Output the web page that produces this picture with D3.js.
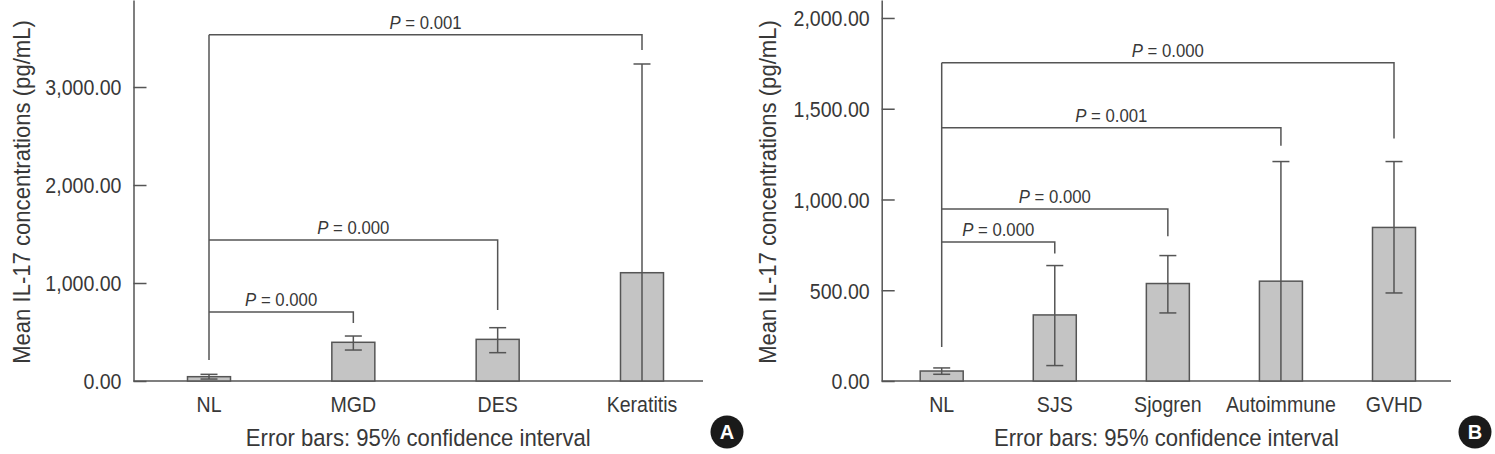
<!DOCTYPE html>
<html>
<head>
<meta charset="utf-8">
<script src="https://cdn.jsdelivr.net/npm/d3@7"></script>
<style>
  html, body { margin: 0; padding: 0; background: #fff; }
  svg { display: block; font-family: "Liberation Sans", Arial, sans-serif; }
</style>
</head>
<body>
<svg id="chart" width="1495" height="454"></svg>
<script>
// panel A
const leftCategories = ['NL', 'MGD', 'DES', 'Keratitis'];
const leftMeans = [44, 395, 425, 1105];
const leftLower = [20, 316, 289, 0];
const leftUpper = [68, 459, 544, 3235];
const leftTicks = [0, 1000, 2000, 3000];
const leftBrackets = [
  { to: 'MGD', level: 704, leg: 592, p: '0.000' },
  { to: 'DES', level: 1439, leg: 724, p: '0.000' },
  { to: 'Keratitis', level: 3534, leg: 3378, p: '0.001' }
];
const leftStemBase = 214;

// panel B
const rightCategories = ['NL', 'SJS', 'Sjogren', 'Autoimmune', 'GVHD'];
const rightMeans = [55, 364, 537, 550, 846];
const rightLower = [37, 85, 375, 0, 485];
const rightUpper = [72, 636, 691, 1209, 1209];
const rightTicks = [0, 500, 1000, 1500, 2000];
const rightBrackets = [
  { to: 'SJS', level: 766, leg: 702, p: '0.000' },
  { to: 'Sjogren', level: 948, leg: 798, p: '0.000' },
  { to: 'Autoimmune', level: 1395, leg: 1296, p: '0.001' },
  { to: 'GVHD', level: 1753, leg: 1336, p: '0.000' }
];
const rightStemBase = 187;

const yTitle = 'Mean IL-17 concentrations (pg/mL)';
const xCaption = 'Error bars: 95% confidence interval';

const ink = '#555';
const textColor = '#383838';
const svg = d3.select('#chart');

// no condensed face installed, so squeeze Liberation Sans horizontally
function squeeze(sel, s) {
  sel.each(function () {
    const t = d3.select(this);
    const x = +t.attr('x') || 0, y = +t.attr('y') || 0;
    t.attr('x', 0).attr('y', 0).attr('transform', `translate(${x},${y}) scale(${s},1)`);
  });
}

function drawPanel(opt) {
  const g = svg.append('g');
  const baseY = 381;

  const y = d3.scaleLinear().domain([0, opt.yMax]).range([baseY, 0]);
  const x = d3.scalePoint().domain(opt.categories).range([opt.firstX, opt.lastX]);
  const barW = 43, capW = 17;

  const rows = opt.categories.map((c, i) => ({
    cat: c, mean: opt.means[i], lo: opt.lower[i], hi: opt.upper[i]
  }));

  // y axis, ticks pointing inward
  const yAxis = g.append('g')
    .attr('transform', `translate(${opt.axisX},0)`)
    .call(d3.axisLeft(y).tickValues(opt.ticks).tickFormat(d3.format(',.2f'))
      .tickSizeInner(-13).tickSizeOuter(0).tickPadding(12));
  yAxis.select('.domain').attr('stroke', ink).attr('stroke-width', 1.5);
  yAxis.selectAll('.tick line').attr('stroke', ink).attr('stroke-width', 1.5);
  yAxis.selectAll('.tick text')
    .attr('fill', textColor).style('font-size', '22px').attr('dy', '0.36em')
    .call(squeeze, 0.89);

  // baseline
  g.append('line')
    .attr('x1', opt.axisX).attr('x2', opt.axisEnd)
    .attr('y1', y(0)).attr('y2', y(0))
    .attr('stroke', ink).attr('stroke-width', 1.5);

  // bars
  g.selectAll('.bar').data(rows).enter().append('rect')
    .attr('class', 'bar')
    .attr('x', d => x(d.cat) - barW / 2)
    .attr('width', barW)
    .attr('y', d => y(d.mean))
    .attr('height', d => y(0) - y(d.mean))
    .attr('fill', '#c4c4c4')
    .attr('stroke', ink).attr('stroke-width', 1.5);

  // error bars
  const eb = g.selectAll('.err').data(rows).enter().append('g').attr('class', 'err')
    .attr('stroke', ink).attr('stroke-width', 1.5);
  eb.append('line')
    .attr('x1', d => x(d.cat)).attr('x2', d => x(d.cat))
    .attr('y1', d => y(d.lo)).attr('y2', d => y(d.hi));
  eb.append('line')
    .attr('x1', d => x(d.cat) - capW / 2).attr('x2', d => x(d.cat) + capW / 2)
    .attr('y1', d => y(d.hi)).attr('y2', d => y(d.hi));
  eb.filter(d => d.lo > 0).append('line')
    .attr('x1', d => x(d.cat) - capW / 2).attr('x2', d => x(d.cat) + capW / 2)
    .attr('y1', d => y(d.lo)).attr('y2', d => y(d.lo));

  // significance brackets from NL
  const x0 = x(opt.categories[0]);
  const topLevel = d3.max(opt.brackets, b => b.level);
  g.append('line')
    .attr('x1', x0).attr('x2', x0)
    .attr('y1', y(topLevel)).attr('y2', y(opt.stemBase))
    .attr('stroke', ink).attr('stroke-width', 1.5);

  opt.brackets.forEach(b => {
    const x1 = x(b.to);
    g.append('path')
      .attr('d', `M${x0},${y(b.level)}H${x1}V${y(b.leg)}`)
      .attr('fill', 'none').attr('stroke', ink).attr('stroke-width', 1.5);
    const t = g.append('text')
      .attr('x', (x0 + x1) / 2).attr('y', y(b.level) - 6)
      .attr('text-anchor', 'middle')
      .attr('fill', textColor).style('font-size', '18px');
    t.append('tspan').attr('font-style', 'italic').text('P');
    t.append('tspan').text(' = ' + b.p);
    t.call(squeeze, 0.93);
  });

  // category labels
  g.selectAll('.cat').data(opt.categories).enter().append('text')
    .attr('x', d => x(d)).attr('y', 412)
    .attr('text-anchor', 'middle')
    .attr('fill', textColor).style('font-size', '22px')
    .text(d => d)
    .call(squeeze, 0.89);

  g.append('text')
    .attr('x', (opt.axisX + opt.axisEnd) / 2).attr('y', 446)
    .attr('text-anchor', 'middle')
    .attr('fill', textColor).style('font-size', '23.5px')
    .text(xCaption)
    .call(squeeze, 0.94);

  g.append('text')
    .attr('transform', `translate(${opt.titleX},192) rotate(-90) scale(0.94,1)`)
    .attr('text-anchor', 'middle').attr('dy', '0.35em')
    .attr('fill', textColor).style('font-size', '23.5px')
    .text(yTitle);

  // panel badge
  g.append('circle')
    .attr('cx', opt.badgeX).attr('cy', 432).attr('r', 16.5)
    .attr('fill', '#1a1a1a');
  g.append('text')
    .attr('x', opt.badgeX).attr('y', 432).attr('dy', '0.36em')
    .attr('text-anchor', 'middle')
    .attr('fill', '#fff').style('font-size', '20px').style('font-weight', 'bold')
    .text(opt.badge);
}

drawPanel({
  categories: leftCategories, means: leftMeans, lower: leftLower, upper: leftUpper,
  ticks: leftTicks, brackets: leftBrackets, stemBase: leftStemBase,
  yMax: 3888, axisX: 133.5, axisEnd: 703, firstX: 209, lastX: 642,
  titleX: 22, badgeX: 727, badge: 'A'
});

drawPanel({
  categories: rightCategories, means: rightMeans, lower: rightLower, upper: rightUpper,
  ticks: rightTicks, brackets: rightBrackets, stemBase: rightStemBase,
  yMax: 2099, axisX: 881.7, axisEnd: 1451, firstX: 941.7, lastX: 1394,
  titleX: 768, badgeX: 1475, badge: 'B'
});
</script>
</body>
</html>
